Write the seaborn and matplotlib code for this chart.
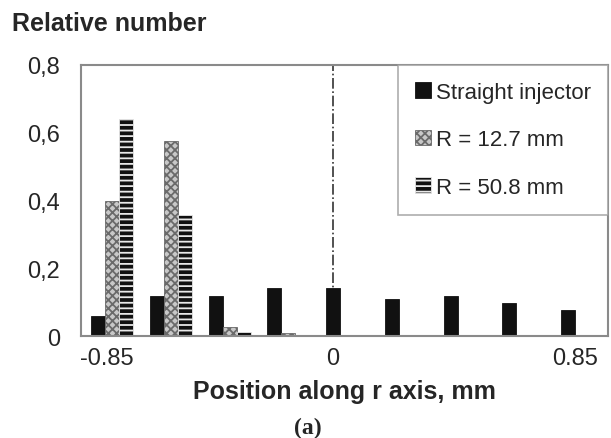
import pandas as pd
import matplotlib.pyplot as plt
import seaborn as sns
from matplotlib.patches import Patch

# bins along r axis (9 bins from -0.85 to 0.85)
bins = [1, 2, 3, 4, 5, 6, 7, 8, 9]
series = ['Straight injector', 'R = 12.7 mm', 'R = 50.8 mm']
straight = [0.058, 0.118, 0.118, 0.143, 0.143, 0.110, 0.118, 0.096, 0.076]
r_12_7 = [0.398, 0.576, 0.026, 0.010, 0.0, 0.0, 0.0, 0.0, 0.0]
r_50_8 = [0.642, 0.356, 0.011, 0.0, 0.0, 0.0, 0.0, 0.0, 0.0]
yticks = [0, 0.2, 0.4, 0.6, 0.8]
ytick_labels = ['0', '0,2', '0,4', '0,6', '0,8']
xtick_pos = [-0.09, 3.76, 7.88]
xtick_labels = ['-0.85', '0', '0.85']

df = pd.DataFrame({
    'bin': bins * 3,
    'series': [series[0]] * 9 + [series[1]] * 9 + [series[2]] * 9,
    'value': straight + r_12_7 + r_50_8,
})

sns.set_style('white')
plt.rcParams['font.family'] = ['Liberation Sans', 'DejaVu Sans']
plt.rcParams['hatch.linewidth'] = 1.3

fig = plt.figure(figsize=(6.11, 4.39), dpi=100)
ax = fig.add_axes([0.1326, 0.2323, 0.8622, 0.6174])

sns.barplot(data=df, x='bin', y='value', hue='series', hue_order=series,
            palette=['#111111', '#c4c4c4', '#111111'], width=0.715, gap=0,
            legend=False, ax=ax)

# styles per series
styles = [
    dict(facecolor='#111111', edgecolor='#111111', hatch=None),
    dict(facecolor='#c8c8c8', edgecolor='#6a6a6a', hatch='xxxx'),
    dict(facecolor='#111111', edgecolor='#e8e8e8', hatch='---'),
]
for cont, st in zip(ax.containers, styles):
    for p in cont.patches:
        p.set_facecolor(st['facecolor'])
        p.set_edgecolor(st['edgecolor'])
        p.set_linewidth(0.6)
        if st['hatch']:
            p.set_hatch(st['hatch'])

ax.set_xlim(-0.53, 8.44)
ax.set_ylim(0, 0.8)
ax.set_yticks(yticks)
ax.set_yticklabels(ytick_labels, fontsize=17)
ax.set_xticks(xtick_pos)
ax.set_xticklabels(xtick_labels, fontsize=17)
ax.tick_params(axis='x', length=0, pad=8)
ax.tick_params(axis='y', direction='inout', length=14, width=1, color='#888888', pad=8)
ax.set_ylabel('')
ax.set_xlabel('Position along r axis, mm', fontsize=18, fontweight='bold', labelpad=7)

for s in ax.spines.values():
    s.set_visible(True)
    s.set_color('#8a8a8a')
    s.set_linewidth(1.5)

ax.axvline(3.76, color='#333333', linestyle='-.', linewidth=1.2, zorder=0.5)

handles = [Patch(facecolor=st['facecolor'], edgecolor=st['edgecolor'], hatch=st['hatch'], linewidth=0.6)
           for st in styles]
leg = ax.legend(handles, series, loc='upper right', bbox_to_anchor=(1, 1), borderaxespad=0,
                fontsize=16, frameon=True, fancybox=False, handlelength=0.7, handleheight=0.7,
                handletextpad=0.25, labelspacing=1.2, borderpad=0.75)
leg.get_frame().set_edgecolor('#9a9a9a')
leg.get_frame().set_linewidth(1.2)

fig.text(0.0196, 0.945, 'Relative number', fontsize=18, fontweight='bold', va='center', ha='left')
fig.text(0.504, 0.025, '(a)', fontsize=17, fontweight='bold', family='Liberation Serif',
         ha='center', va='center')

fig.savefig('out.png', dpi=100)
